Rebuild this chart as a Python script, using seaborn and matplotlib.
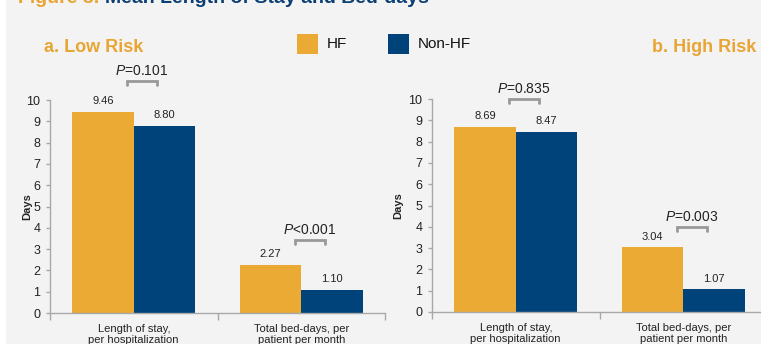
import matplotlib
matplotlib.use("Agg")
import matplotlib.pyplot as plt
from matplotlib.patches import Rectangle
from matplotlib.lines import Line2D
import pandas as pd
import seaborn as sns

# ---- data ----
categories = ["Length of stay,\nper hospitalization", "Total bed-days, per\npatient per month"]
groups = ["HF", "Non-HF"]
low_hf = [9.46, 2.27]
low_nonhf = [8.80, 1.10]
high_hf = [8.69, 3.04]
high_nonhf = [8.47, 1.07]
low_p = ["=0.101", "<0.001"]
high_p = ["=0.835", "=0.003"]
yticks = list(range(0, 11))
colors = ["#EBAA33", "#00437A"]

sns.set_style("ticks")
plt.rcParams["font.family"] = ["Liberation Sans", "DejaVu Sans"]
plt.rcParams["mathtext.fontset"] = "custom"
plt.rcParams["mathtext.rm"] = "Liberation Sans"
plt.rcParams["mathtext.it"] = "Liberation Sans:italic"

BG = "#F3F3F3"
SPINE = "#A8A8A8"
W, H = 761, 344

fig = plt.figure(figsize=(W / 100, H / 100), dpi=100, facecolor=BG)
fig.add_artist(Rectangle((0, 0), 6 / W, 1, transform=fig.transFigure,
                         facecolor="white", edgecolor="none"))


def frame(hf, nonhf):
    return pd.DataFrame({
        "category": categories * 2,
        "group": [groups[0]] * len(categories) + [groups[1]] * len(categories),
        "days": list(hf) + list(nonhf),
    })


def draw_panel(rect, hf, nonhf, pvals, bracket_y, label_x):
    ax = fig.add_axes(rect)
    ax.set_facecolor(BG)
    sns.barplot(data=frame(hf, nonhf), x="category", y="days", hue="group",
                hue_order=groups, palette=colors, saturation=1, width=0.735,
                edgecolor="none", linewidth=0, legend=False, ax=ax)
    ax.set_ylim(0, 10)
    ax.set_xlim(-0.5, len(categories) - 0.5)
    ax.set_yticks(yticks)
    ax.set_yticklabels([str(t) for t in yticks], fontsize=9, color="#222222")
    # category boundaries carry the tick marks, labels sit at the centres
    ax.set_xticks([i - 0.5 for i in range(len(categories) + 1)])
    ax.set_xticklabels([])
    ax.set_xticks(range(len(categories)), minor=True)
    ax.set_xticklabels(categories, minor=True, fontsize=8, color="#222222",
                       linespacing=1.1)
    ax.tick_params(axis="x", which="minor", length=0, pad=8)
    ax.tick_params(axis="x", which="major", length=5, color=SPINE, width=1)
    ax.tick_params(axis="y", length=3, color=SPINE, width=1, pad=4)
    for s in ("top", "right"):
        ax.spines[s].set_visible(False)
    for s in ("left", "bottom"):
        ax.spines[s].set_color(SPINE)
        ax.spines[s].set_linewidth(1)
    ax.set_xlabel("")
    ax.set_ylabel("Days", fontsize=8, fontweight="bold")
    # place the axis title at a fixed pixel offset left of the spine
    ax.yaxis.set_label_coords(label_x / (rect[2] * W), 0.5)

    for cont in ax.containers:
        ax.bar_label(cont, fmt="%.2f", padding=4, fontsize=8, color="#222222")

    for i, (p, yb) in enumerate(zip(pvals, bracket_y)):
        x0, x1 = i - 0.04, i + 0.14
        ax.add_line(Line2D([x0, x0, x1, x1], [yb - 0.2, yb, yb, yb - 0.2],
                           color="#999999", lw=2, clip_on=False,
                           solid_joinstyle="miter"))
        ax.text((x0 + x1) / 2, yb + 0.45, r"$\mathit{P}$" + p, ha="center",
                va="center", fontsize=10, color="#222222", clip_on=False)
    return ax


axh = 213 / H
draw_panel([50 / W, 31 / H, 335 / W, axh], low_hf, low_nonhf, low_p,
           [10.89, 3.43], -18)
draw_panel([432 / W, 32 / H, 335 / W, axh], high_hf, high_nonhf, high_p,
           [10.0, 3.99], -29)

# panel headings
fig.text(44 / W, 1 - 48 / H, "a. Low Risk", color="#E9A534", fontsize=13,
         fontweight="bold", ha="left", va="center")
fig.text(652 / W, 1 - 48 / H, "b. High Risk", color="#E9A534", fontsize=13,
         fontweight="bold", ha="left", va="center")

# legend
for (x_sq, x_txt), name, col in zip([(297, 327), (388, 418)], groups, colors):
    fig.add_artist(Rectangle((x_sq / W, 1 - 54 / H), 21 / W, 20 / H,
                             transform=fig.transFigure, facecolor=col,
                             edgecolor="none"))
    fig.text(x_txt / W, 1 - 44 / H, name, fontsize=11, color="#111111",
             ha="left", va="center")

# figure title, running off the top edge
t1 = fig.text(18 / W, 1 - 3 / H, "Figure 3. ", color="#E9A534", fontsize=14,
              fontweight="bold", ha="left", va="baseline")
fig.canvas.draw()
bb = t1.get_window_extent()
fig.text(bb.x1 / W, 1 - 3 / H, "Mean Length of Stay and Bed-days",
         color="#0B3F73", fontsize=14, fontweight="bold", ha="left",
         va="baseline")

fig.savefig("out.png", dpi=100, facecolor=BG)
